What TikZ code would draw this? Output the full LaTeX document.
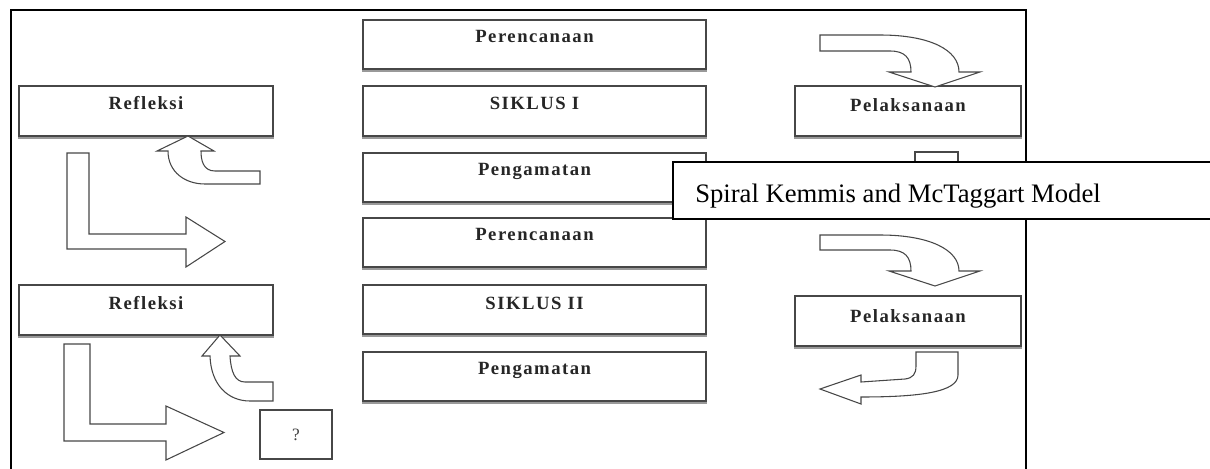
\documentclass[tikz,border=0pt]{standalone}
\usepackage{fontspec}
\setmainfont{Liberation Serif}
\newfontfamily\lblfont[LetterSpace=8]{Liberation Serif}
\usetikzlibrary{fit}
\tikzset{
  stage/.style={draw=black!72, line width=0.9pt, fill=white, inner sep=0pt},
  lbl/.style={font=\lblfont\bfseries\fontsize{14}{16}\selectfont, text=black!85, anchor=base, inner sep=0pt},
  blockarrow/.style={draw=black!72, line width=0.8pt, fill=white, line join=miter},
  frameline/.style={draw=black, line width=1.1pt},
  caption/.style={draw=black, line width=1.3pt, fill=white, inner sep=0pt},
  boxshadow/.style={draw=black!40, line width=1.1pt},
}
\begin{document}
\begin{tikzpicture}[x=0.75pt, y=-0.75pt]
\useasboundingbox (0,0) rectangle (1210,468);
% outer frame (open at the bottom)
\draw[frameline] (11,470) -- (11,10) -- (1026,10) -- (1026,470);

% middle column
\node[stage, fit={(363,20)(706,69)}]   (per1) {};
\node[stage, fit={(363,86)(706,136)}]  (sik1) {};
\node[stage, fit={(363,153)(706,202)}] (pen1) {};
\node[stage, fit={(363,218)(706,267)}] (per2) {};
\node[stage, fit={(363,285)(706,334)}] (sik2) {};
\node[stage, fit={(363,352)(706,401)}] (pen2) {};
% left column
\node[stage, fit={(19,86)(273,136)}]   (ref1) {};
\node[stage, fit={(19,285)(273,335)}]  (ref2) {};
\node[stage, fit={(260,410)(332,459)}] (q) {};
% right column
\node[stage, fit={(795,86)(1021,136)}]  (pel1) {};
\node[stage, fit={(795,296)(1021,346)}] (pel2) {};

% soft shadow on the lower edges
\foreach \n in {per1,sik1,pen1,per2,sik2,pen2,ref1,ref2,pel1,pel2}
  \draw[boxshadow] ([yshift=-0.9pt]\n.south west) -- ([yshift=-0.9pt]\n.south east);

% labels
\node[lbl] (tper1) at ([yshift=-17.5pt]per1.north) {Perencanaan};
\node[lbl] (tsik1) at ([yshift=-18pt]sik1.north) {SIKLUS I};
\node[lbl] (tpen1) at ([yshift=-17.5pt]pen1.north) {Pengamatan};
\node[lbl] (tper2) at ([yshift=-17.5pt]per2.north) {Perencanaan};
\node[lbl] (tsik2) at ([yshift=-18.5pt]sik2.north) {SIKLUS II};
\node[lbl] (tpen2) at ([yshift=-17.5pt]pen2.north) {Pengamatan};
\node[lbl] (tref1) at ([yshift=-18pt]ref1.north) {Refleksi};
\node[lbl] (tref2) at ([yshift=-18.5pt]ref2.north) {Refleksi};
\node[lbl] (tpel1) at ([yshift=-19.5pt]pel1.north) {Pelaksanaan};
\node[lbl] (tpel2) at ([yshift=-20pt]pel2.north) {Pelaksanaan};
\node[font=\fontsize{13}{15}\selectfont, text=black!75, inner sep=0pt] (tq) at (q.center) {?};

% curved down arrows into Pelaksanaan
\draw[blockarrow] (820,35) -- (880,35) .. controls (930,35) and (959,50) .. (959,72)
  -- (980,72) -- (935,87) -- (889,72) -- (911,72)
  .. controls (911,58) and (905,51) .. (890,51) -- (820,51) -- cycle;
\draw[blockarrow] (820,235) -- (880,235) .. controls (930,235) and (959,250) .. (959,271)
  -- (980,271) -- (935,286) -- (889,271) -- (911,271)
  .. controls (911,257) and (905,250) .. (890,250) -- (820,250) -- cycle;
% curved left arrow below Pelaksanaan II
\draw[blockarrow] (916,352) -- (958,352) -- (958,375)
  .. controls (958,392) and (920,397) .. (861,397) -- (861,404) -- (820,389)
  -- (861,375) -- (861,382) -- (905,379)
  .. controls (913,378) and (916,374) .. (916,366) -- cycle;
% partly hidden arrow below Pelaksanaan I
\draw[blockarrow] (915,205) -- (915,152) -- (958,152) -- (958,205);

% L arrows on the left
\draw[blockarrow] (67,153) -- (89,153) -- (89,234) -- (186,234) -- (186,217)
  -- (225,241.5) -- (186,267) -- (186,249) -- (67,249) -- cycle;
\draw[blockarrow] (64,344) -- (90,344) -- (90,424) -- (166,424) -- (166,406)
  -- (224,432.5) -- (166,460) -- (166,441) -- (64,441) -- cycle;
% curved up arrows into Refleksi
\draw[blockarrow] (260,171) -- (215,171) .. controls (203,171) and (201,160) .. (201,151)
  -- (214,151) -- (188,136) -- (157,151) -- (168,151)
  .. controls (168,172) and (185,184) .. (205,184) -- (260,184) -- cycle;
\draw[blockarrow] (273,382) -- (245,382) .. controls (235,382) and (231,372) .. (230,356)
  -- (240,356) -- (220,335) -- (202,356) -- (210,356)
  .. controls (211,385) and (228,401) .. (250,401) -- (273,401) -- cycle;

% caption box on top
\node[caption, fit={(673,162)(1212,219)}] (cap) {};
\node[font=\fontsize{20}{24}\selectfont, anchor=base west, inner sep=0pt] (captext) at (695,202) {Spiral Kemmis and McTaggart Model};
\end{tikzpicture}
\end{document}
